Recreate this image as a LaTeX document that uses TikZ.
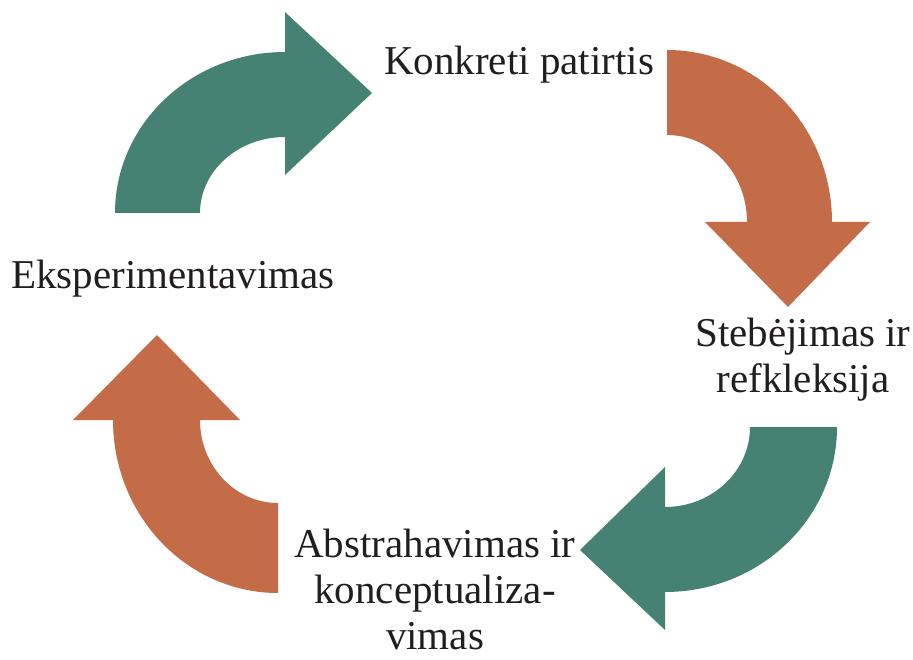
\documentclass[tikz,border=0pt]{standalone}
\usepackage{fontspec}
\setmainfont{Liberation Serif}
\definecolor{cyclegreen}{RGB}{69,130,115}
\definecolor{cycleorange}{RGB}{196,107,72}
\definecolor{labelink}{RGB}{34,30,31}
\begin{document}
\begin{tikzpicture}[x=1pt,y=-1pt,
  stage/.style={inner sep=0pt, anchor=base, align=center, text=labelink,
    font=\fontsize{41}{46}\selectfont}]
\useasboundingbox (0,0) rectangle (913,660);

% curved arrows of the cycle
\fill[cyclegreen] (115,213)
  arc[start angle=180, end angle=270, x radius=170, y radius=161]
  -- (285,12) -- (372,93) -- (285,175) -- (285,137)
  arc[start angle=270, end angle=180, x radius=85, y radius=76] -- cycle;

\fill[cycleorange] (667,50)
  arc[start angle=270, end angle=360, x radius=165, y radius=172]
  -- (870,222) -- (788,307) -- (705,222) -- (747,222)
  arc[start angle=0, end angle=-90, x radius=80, y radius=87] -- cycle;

\fill[cyclegreen] (837,427)
  arc[start angle=0, end angle=90, x radius=172, y radius=165]
  -- (665,630) -- (580,550) -- (665,467) -- (665,507)
  arc[start angle=90, end angle=0, x radius=85, y radius=80] -- cycle;

\fill[cycleorange] (278,593)
  arc[start angle=90, end angle=180, x radius=165, y radius=173]
  -- (73,420) -- (157,335) -- (240,420) -- (200,420)
  arc[start angle=180, end angle=90, x radius=78, y radius=83] -- cycle;

% stage labels (base anchor sits on the last line of each label)
\node[stage] (patirtis) at (519,75) {Konkreti patirtis};
\node[stage] (refleksija) at (803,392) {Stebėjimas ir\\refkleksija};
\node[stage] (abstrahavimas) at (435,649) {Abstrahavimas ir\\konceptualiza-\\vimas};
\node[stage] (eksperimentavimas) at (173,289) {Eksperimentavimas};
\end{tikzpicture}
\end{document}
